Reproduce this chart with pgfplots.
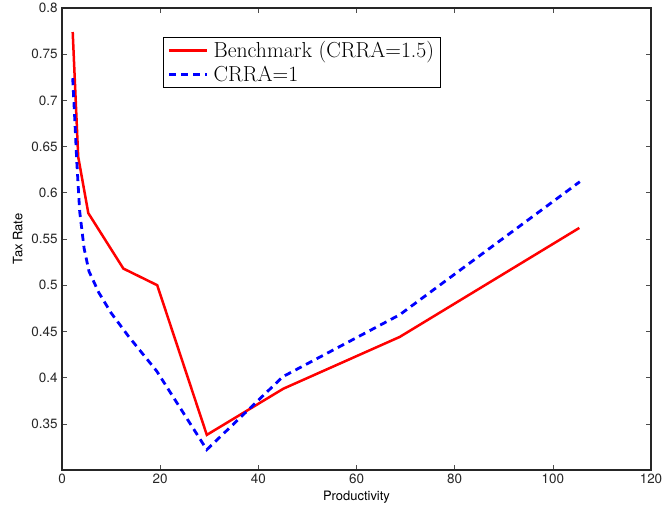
\documentclass[border=0pt]{standalone}
\usepackage{fontspec}
\usepackage{pgfplots}
\pgfplotsset{compat=1.18}
\newfontfamily\helv{TeX Gyre Heros}
\begin{document}
\begin{tikzpicture}
\begin{axis}[
  scale only axis,
  width=589bp, height=462bp,
  xmin=0, xmax=120, ymin=0.3, ymax=0.8,
  xtick={0,20,40,60,80,100,120},
  ytick={0.35,0.4,0.45,0.5,0.55,0.6,0.65,0.7,0.75,0.8},
  yticklabels={0.35,0.4,0.45,0.5,0.55,0.6,0.65,0.7,0.75,0.8},
  xticklabels={0,20,40,60,80,100,120},
  tick align=inside,
  major tick length=5bp,
  tick style={black!70, line width=0.6bp},
  axis line style={line width=1.3bp, black!85},
  ticklabel style={font=\helv\fontsize{13.5}{15}\selectfont, black!85},
  yticklabel style={xshift=-1bp},
  /pgf/number format/assume math mode=true,
  xlabel={\helv\fontsize{13}{15}\selectfont Productivity},
  ylabel={\helv\fontsize{13}{15}\selectfont Tax Rate},
  xlabel style={at={(axis description cs:0.5,0)}, anchor=north, yshift=-18bp},
  ylabel style={at={(axis description cs:0,0.5)}, anchor=south, yshift=36bp},
  legend style={at={(0.172,0.937)}, anchor=north west, draw=black, line width=1bp,
    font=\fontsize{21.8}{24}\selectfont, inner xsep=4bp, inner ysep=2bp,
    row sep=3bp, cells={anchor=west}},
  legend image code/.code={\draw[#1] (0bp,0bp) -- (38bp,0bp); \path (41bp,0bp);},
]
\addplot[red, line width=2.5bp] coordinates {
(2.18,0.774) (3.3,0.639) (5.36,0.578) (12.5,0.518) (19.4,0.500) (29.5,0.338)
(45.1,0.388) (68.8,0.444) (105.4,0.562)
};
\addlegendentry{Benchmark (CRRA=1.5)}
\addplot[blue, line width=2.8bp, dash pattern=on 7bp off 5bp] coordinates {
(2.18,0.724) (2.6,0.68) (3.0,0.635) (3.6,0.58) (4.5,0.540) (5.5,0.515) (7.5,0.492)
(10,0.470) (13.5,0.445) (19.3,0.407) (29.5,0.322) (45.0,0.401) (68.8,0.468) (105.5,0.612)
};
\addlegendentry{CRRA=1}
\end{axis}
\pgfresetboundingbox
\path (current axis.south west) ++(-62bp,-40bp) coordinate (bl);
\path (current axis.north east) ++(21bp,8bp) coordinate (tr);
\path[use as bounding box] (bl) rectangle (tr);
\end{tikzpicture}
\end{document}
